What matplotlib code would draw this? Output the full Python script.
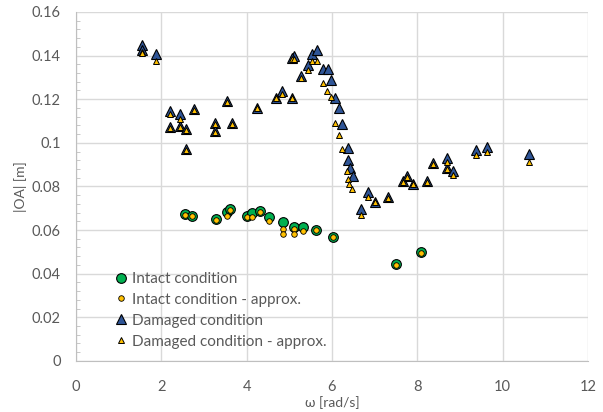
import matplotlib.pyplot as plt
from matplotlib.ticker import MultipleLocator, FuncFormatter

plt.rcParams['font.family'] = ['Lato', 'DejaVu Sans']

# intact condition
intact_x = [2.55, 2.72, 3.28, 3.55, 3.62, 4.0, 4.12, 4.32, 4.52, 4.86, 5.1, 5.32, 5.63, 6.03, 7.49, 8.08]
intact_y = [0.0672, 0.0665, 0.0650, 0.0685, 0.0698, 0.0665, 0.0680, 0.0688, 0.0660, 0.0637, 0.0615, 0.0614, 0.0600, 0.0569, 0.0445, 0.0498]

intact_ap_x = [2.55, 2.72, 3.28, 3.55, 3.62, 4.0, 4.12, 4.32, 4.52, 4.86, 4.86, 5.1, 5.1, 5.32, 5.63, 6.03, 7.49, 8.08]
intact_ap_y = [0.0670, 0.0663, 0.0645, 0.0665, 0.0690, 0.0662, 0.0660, 0.0683, 0.0640, 0.0606, 0.0583, 0.0603, 0.0580, 0.0595, 0.0598, 0.0567, 0.0442, 0.0496]

# damaged condition
damaged_x = [1.55, 1.55, 1.87, 2.20, 2.44, 2.77, 2.20, 2.44, 2.57, 2.57, 3.53, 3.27, 3.27, 3.65, 4.24,
             4.68, 4.82, 5.07, 5.10, 5.07, 5.44, 5.28, 5.54, 5.65, 5.79, 5.91, 5.97, 6.08, 6.16, 6.23,
             6.37, 6.37, 6.43, 6.49, 6.85, 7.0, 6.67, 7.32, 7.67, 7.77, 7.9, 8.23, 8.37, 8.69, 8.69,
             8.84, 9.37, 9.63, 10.63]
damaged_y = [0.1450, 0.1427, 0.1405, 0.1145, 0.1130, 0.1153, 0.1073, 0.1076, 0.1064, 0.0970, 0.1191, 0.1092, 0.1053, 0.1089, 0.1160,
             0.1206, 0.1237, 0.1206, 0.1400, 0.1390, 0.1359, 0.1305, 0.1409, 0.1424, 0.1339, 0.1339, 0.1290, 0.1206, 0.1160, 0.1086,
             0.0976, 0.0923, 0.0885, 0.0850, 0.0776, 0.0730, 0.0698, 0.0750, 0.0824, 0.0847, 0.0813, 0.0823, 0.0906, 0.0929, 0.0885,
             0.0869, 0.0965, 0.0980, 0.0949]

damaged_ap_x = [1.55, 1.55, 1.87, 2.20, 2.44, 2.77, 2.20, 2.44, 2.57, 2.57, 3.53, 3.27, 3.27, 3.65, 4.24,
                4.68, 4.82, 5.07, 5.07, 5.12, 5.44, 5.28, 5.54, 5.65, 5.79, 5.88, 5.97, 6.07, 6.16, 6.23,
                6.36, 6.37, 6.41, 6.47, 6.85, 7.0, 6.67, 7.32, 7.67, 7.77, 7.9, 8.23, 8.37, 8.69, 8.69,
                8.84, 9.37, 9.63, 10.63]
damaged_ap_y = [0.1418, 0.1410, 0.1374, 0.1130, 0.1110, 0.1150, 0.1070, 0.1073, 0.1060, 0.0968, 0.1188, 0.1088, 0.1050, 0.1086, 0.1158,
                0.1204, 0.1225, 0.1204, 0.1382, 0.1385, 0.1336, 0.1295, 0.1374, 0.1374, 0.1275, 0.1237, 0.1209, 0.1092, 0.1038, 0.0972,
                0.0870, 0.0835, 0.0812, 0.0789, 0.0750, 0.0728, 0.0667, 0.0748, 0.0822, 0.0845, 0.0810, 0.0820, 0.0904, 0.0911, 0.0879,
                0.0852, 0.0945, 0.0960, 0.0911]

grey = "#595959"

fig = plt.figure(figsize=(6.03, 4.12), dpi=100)
ax = fig.add_axes([0.126, 0.124, 0.849, 0.847])

ax.plot(intact_x, intact_y, "o", ms=7, mfc="#00B050", mec="black", mew=0.8, label="Intact condition")
ax.plot(intact_ap_x, intact_ap_y, "o", ms=4, mfc="#FFC000", mec="black", mew=0.6, label="Intact condition - approx.")
ax.plot(damaged_x, damaged_y, "^", ms=7.5, mfc="#2F5597", mec="black", mew=0.8, label="Damaged condition")
ax.plot(damaged_ap_x, damaged_ap_y, "^", ms=4.5, mfc="#FFC000", mec="black", mew=0.7, label="Damaged condition - approx.")

ax.set_xlim(0, 12)
ax.set_ylim(0, 0.16)
ax.xaxis.set_major_locator(MultipleLocator(2))
ax.yaxis.set_major_locator(MultipleLocator(0.02))
ax.yaxis.set_minor_locator(MultipleLocator(0.004))
ax.yaxis.set_major_formatter(FuncFormatter(lambda v, p: "{:g}".format(round(v, 3))))

ax.grid(True, which="major", color="#D9D9D9", linewidth=1)
ax.set_axisbelow(True)
for s in ["top", "right"]:
    ax.spines[s].set_visible(False)
for s in ["left", "bottom"]:
    ax.spines[s].set_color("#BFBFBF")
ax.tick_params(which="major", length=0, colors=grey, labelsize=10.5)
ax.tick_params(axis="x", pad=14)
ax.tick_params(axis="y", pad=11)
ax.tick_params(axis="y", which="minor", length=3, direction="in", color="#BFBFBF")

ax.set_xlabel("ω [rad/s]", color=grey, fontsize=10)
ax.set_ylabel("|OA| [m]", color=grey, fontsize=10)
ax.xaxis.set_label_coords(0.5, -0.12)
ax.xaxis.label.set_va("center")
ax.yaxis.set_label_coords(-0.108, 0.5)
ax.yaxis.label.set_va("center")

ax.legend(loc="lower left", bbox_to_anchor=(0.058, 0.018), frameon=False, fontsize=11,
          labelcolor=grey, handletextpad=0.15, borderaxespad=0, labelspacing=0.45, handlelength=1.2)

plt.savefig("out.png")
